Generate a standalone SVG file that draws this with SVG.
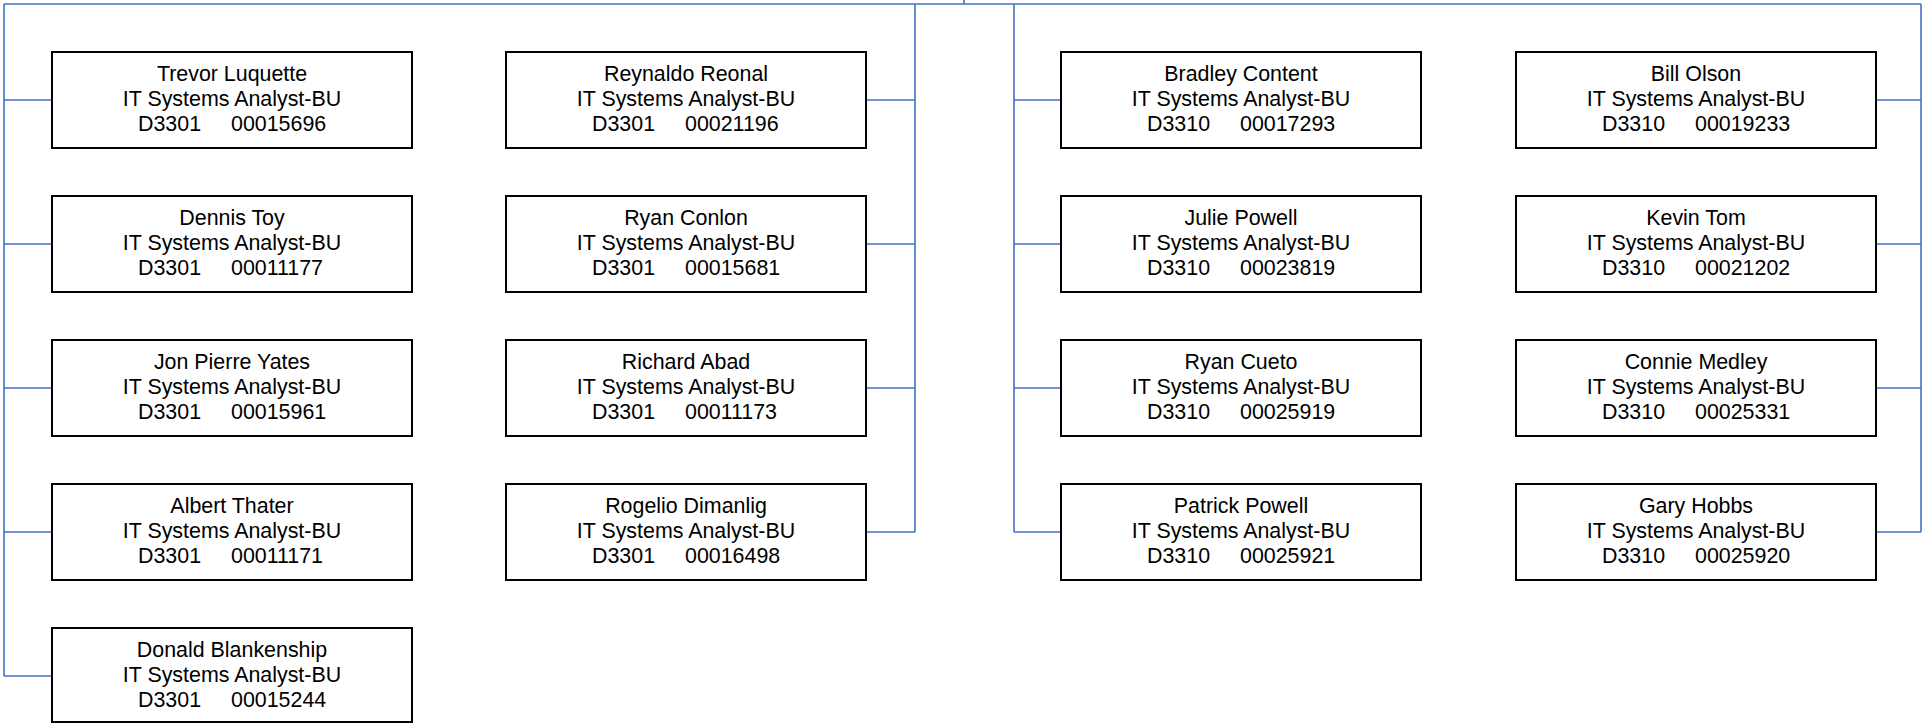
<svg xmlns="http://www.w3.org/2000/svg" width="1923" height="724" viewBox="0 0 1923 724">
<style>
.box{fill:#fff;stroke:#000;stroke-width:2}
.c{fill:none;stroke:#4472C4;stroke-width:1.6}
text{font-family:"Liberation Sans",Arial,sans-serif;font-size:21.4px;fill:#000}
.m{text-anchor:middle}
</style>
<rect width="1923" height="724" fill="#fff"/>
<g id="connectors">
<path class="c" d="M964,0 V4 M4,4 H1921 M4,4 V676 M4,100 H52 M4,244 H52 M4,388 H52 M4,532 H52 M4,676 H52"/>
<path class="c" d="M915,4 V532 M866,100 H915 M866,244 H915 M866,388 H915 M866,532 H915"/>
<path class="c" d="M1014,4 V532 M1014,100 H1061 M1014,244 H1061 M1014,388 H1061 M1014,532 H1061"/>
<path class="c" d="M1921,4 V532 M1876,100 H1921 M1876,244 H1921 M1876,388 H1921 M1876,532 H1921"/>
</g>
<g id="n1"><rect class="box" x="52" y="52" width="360" height="96"/><text class="m" x="232" y="81">Trevor Luquette</text><text class="m" x="232" y="106">IT Systems Analyst-BU</text><text y="131"><tspan x="138">D3301</tspan><tspan x="231">00015696</tspan></text></g>
<g id="n2"><rect class="box" x="52" y="196" width="360" height="96"/><text class="m" x="232" y="225">Dennis Toy</text><text class="m" x="232" y="250">IT Systems Analyst-BU</text><text y="275"><tspan x="138">D3301</tspan><tspan x="231">00011177</tspan></text></g>
<g id="n3"><rect class="box" x="52" y="340" width="360" height="96"/><text class="m" x="232" y="369">Jon Pierre Yates</text><text class="m" x="232" y="394">IT Systems Analyst-BU</text><text y="419"><tspan x="138">D3301</tspan><tspan x="231">00015961</tspan></text></g>
<g id="n4"><rect class="box" x="52" y="484" width="360" height="96"/><text class="m" x="232" y="513">Albert Thater</text><text class="m" x="232" y="538">IT Systems Analyst-BU</text><text y="563"><tspan x="138">D3301</tspan><tspan x="231">00011171</tspan></text></g>
<g id="n5"><rect class="box" x="52" y="628" width="360" height="94"/><text class="m" x="232" y="657">Donald Blankenship</text><text class="m" x="232" y="682">IT Systems Analyst-BU</text><text y="707"><tspan x="138">D3301</tspan><tspan x="231">00015244</tspan></text></g>

<g id="n6"><rect class="box" x="506" y="52" width="360" height="96"/><text class="m" x="686" y="81">Reynaldo Reonal</text><text class="m" x="686" y="106">IT Systems Analyst-BU</text><text y="131"><tspan x="592">D3301</tspan><tspan x="685">00021196</tspan></text></g>
<g id="n7"><rect class="box" x="506" y="196" width="360" height="96"/><text class="m" x="686" y="225">Ryan Conlon</text><text class="m" x="686" y="250">IT Systems Analyst-BU</text><text y="275"><tspan x="592">D3301</tspan><tspan x="685">00015681</tspan></text></g>
<g id="n8"><rect class="box" x="506" y="340" width="360" height="96"/><text class="m" x="686" y="369">Richard Abad</text><text class="m" x="686" y="394">IT Systems Analyst-BU</text><text y="419"><tspan x="592">D3301</tspan><tspan x="685">00011173</tspan></text></g>
<g id="n9"><rect class="box" x="506" y="484" width="360" height="96"/><text class="m" x="686" y="513">Rogelio Dimanlig</text><text class="m" x="686" y="538">IT Systems Analyst-BU</text><text y="563"><tspan x="592">D3301</tspan><tspan x="685">00016498</tspan></text></g>

<g id="n10"><rect class="box" x="1061" y="52" width="360" height="96"/><text class="m" x="1241" y="81">Bradley Content</text><text class="m" x="1241" y="106">IT Systems Analyst-BU</text><text y="131"><tspan x="1147">D3310</tspan><tspan x="1240">00017293</tspan></text></g>
<g id="n11"><rect class="box" x="1061" y="196" width="360" height="96"/><text class="m" x="1241" y="225">Julie Powell</text><text class="m" x="1241" y="250">IT Systems Analyst-BU</text><text y="275"><tspan x="1147">D3310</tspan><tspan x="1240">00023819</tspan></text></g>
<g id="n12"><rect class="box" x="1061" y="340" width="360" height="96"/><text class="m" x="1241" y="369">Ryan Cueto</text><text class="m" x="1241" y="394">IT Systems Analyst-BU</text><text y="419"><tspan x="1147">D3310</tspan><tspan x="1240">00025919</tspan></text></g>
<g id="n13"><rect class="box" x="1061" y="484" width="360" height="96"/><text class="m" x="1241" y="513">Patrick Powell</text><text class="m" x="1241" y="538">IT Systems Analyst-BU</text><text y="563"><tspan x="1147">D3310</tspan><tspan x="1240">00025921</tspan></text></g>

<g id="n14"><rect class="box" x="1516" y="52" width="360" height="96"/><text class="m" x="1696" y="81">Bill Olson</text><text class="m" x="1696" y="106">IT Systems Analyst-BU</text><text y="131"><tspan x="1602">D3310</tspan><tspan x="1695">00019233</tspan></text></g>
<g id="n15"><rect class="box" x="1516" y="196" width="360" height="96"/><text class="m" x="1696" y="225">Kevin Tom</text><text class="m" x="1696" y="250">IT Systems Analyst-BU</text><text y="275"><tspan x="1602">D3310</tspan><tspan x="1695">00021202</tspan></text></g>
<g id="n16"><rect class="box" x="1516" y="340" width="360" height="96"/><text class="m" x="1696" y="369">Connie Medley</text><text class="m" x="1696" y="394">IT Systems Analyst-BU</text><text y="419"><tspan x="1602">D3310</tspan><tspan x="1695">00025331</tspan></text></g>
<g id="n17"><rect class="box" x="1516" y="484" width="360" height="96"/><text class="m" x="1696" y="513">Gary Hobbs</text><text class="m" x="1696" y="538">IT Systems Analyst-BU</text><text y="563"><tspan x="1602">D3310</tspan><tspan x="1695">00025920</tspan></text></g>
</svg>
